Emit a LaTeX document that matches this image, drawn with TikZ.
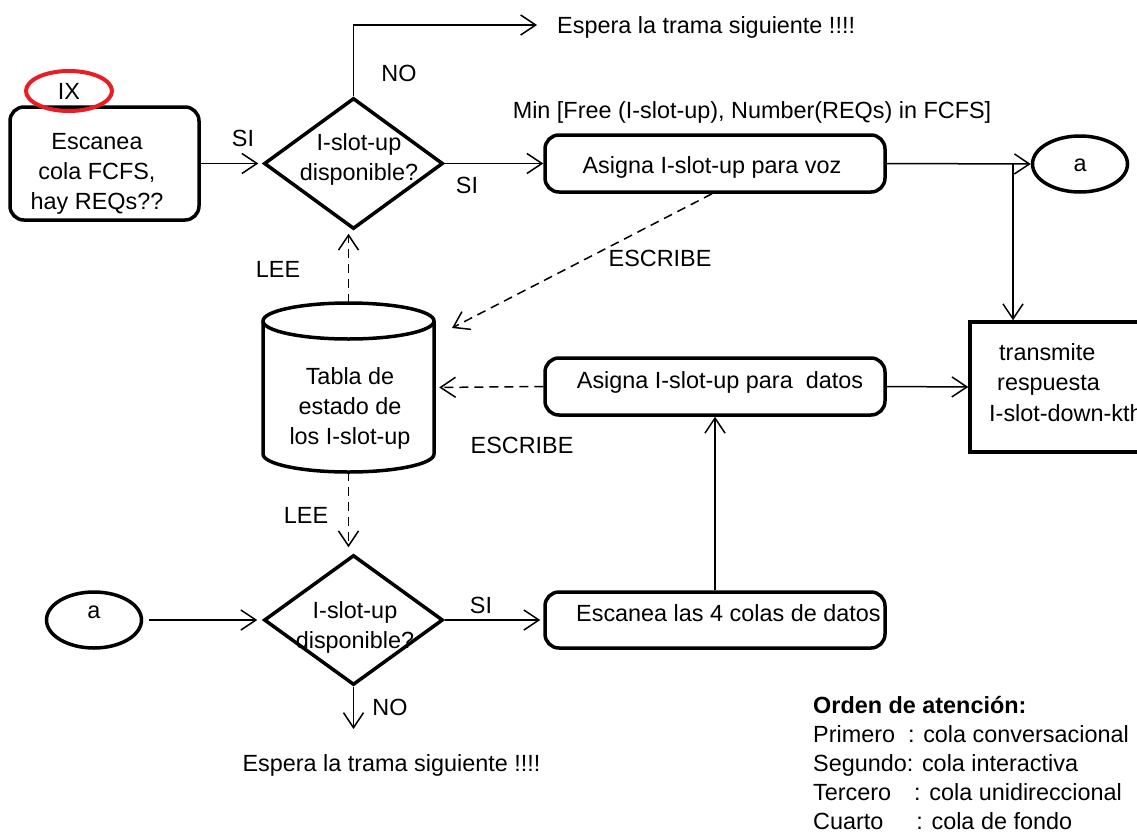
\documentclass[tikz,border=0pt]{standalone}
\usepackage{fontspec}
\setmainfont{Liberation Sans}
\usetikzlibrary{shapes.geometric,arrows.meta}
\definecolor{ixred}{RGB}{232,30,36}
\begin{document}
\begin{tikzpicture}[x=1pt,y=-1pt,
  every node/.style={font=\fontsize{23.4}{30}\selectfont},
  box/.style={draw, line width=3.5pt, rounded corners=14pt, inner sep=0pt},
  sqbox/.style={draw, line width=3.5pt, inner sep=0pt},
  dia/.style={draw, diamond, line width=3.5pt, inner sep=0pt},
  oval/.style={draw, ellipse, line width=3.5pt, inner sep=0pt},
  lbl/.style={anchor=base, inner sep=0pt},
  lblw/.style={anchor=base west, inner sep=0pt},
  txt/.style={align=center, inner sep=0pt},
  arr/.style={line width=1.5pt, -{Straight Barb[length=15pt,width=20pt]}},
  darr/.style={arr, dash pattern=on 9pt off 6pt},
  dbody/.style={line width=3.5pt},
]
\fill[white] (0,0) rectangle (1137,835);
\useasboundingbox (0,0) rectangle (1137,835);
\clip (0,0) rectangle (1137,835);

% ---- top row
\node[box, minimum width=189pt, minimum height=113pt] (esc) at (104.5,163.5) {};
\node[txt] (escT) at (97,174) {Escanea\\cola FCFS,\\hay REQs??};
\node[ellipse, draw=ixred, line width=4pt, inner sep=0pt, minimum width=86pt, minimum height=40pt] (ix) at (69,91) {IX};

\node[dia, minimum width=179pt, minimum height=131pt] (d1) at (353.5,163.5) {};
\node[txt] (d1T) at (359,159) {I-slot-up\\disponible?};

\node[box, minimum width=340pt, minimum height=57pt] (voz) at (715,163.5) {};
\node[lbl] (vozT) at (712,173) {Asigna I-slot-up para voz};

\node[oval, minimum width=95pt, minimum height=56pt, text height=14pt, text depth=0pt] (a1) at (1080,164) {a};

\node[sqbox, minimum width=190pt, minimum height=130pt] (trans) at (1065,387) {};
\node[lblw] (t1) at (999,360) {transmite};
\node[lblw] (t2) at (997,390) {respuesta};
\node[lblw] (t3) at (989,421) {I-slot-down-kth};

\node[lblw] (espera1) at (557,33) {Espera la trama siguiente !!!!};
\coordinate (e1tip) at (537,25);
\node[lbl] (minT) at (752,118) {Min [Free (I-slot-up), Number(REQs) in FCFS]};

% ---- table (cylinder)
\node[inner sep=0pt, minimum width=171pt, minimum height=169pt] (tabla) at (348.5,387.5) {};
\draw[dbody] (263,321) -- (263,454) arc[start angle=180, end angle=0, x radius=85.5, y radius=18]
  -- (434,321) arc[start angle=360, end angle=180, x radius=85.5, y radius=18] -- cycle;
\draw[dbody] (263,321) arc[start angle=180, end angle=0, x radius=85.5, y radius=18];
\node[txt] (tablaT) at (350,408) {Tabla de\\estado de\\los I-slot-up};

\node[box, minimum width=340pt, minimum height=57pt] (datos) at (715,386.5) {};
\node[lbl] (datosT) at (720,388) {Asigna I-slot-up para~ datos};

% ---- bottom row
\node[oval, minimum width=95pt, minimum height=56pt, text height=10pt, text depth=13pt] (a2) at (94,620) {a};
\node[dia, minimum width=179pt, minimum height=130pt] (d2) at (353.5,620) {};
\node[txt] (d2T) at (355,627) {I-slot-up\\disponible?};
\node[box, minimum width=340pt, minimum height=56pt] (esc4) at (715,620) {};
\node[lblw] (esc4T) at (576,621) {Escanea las 4 colas de datos};
\coordinate (no2) at (353.5,729);
\node[lbl] (espera2) at (391.5,771) {Espera la trama siguiente !!!!};
\coordinate (w1) at (452,328);
\coordinate (j) at (1013,163.5);

% ---- labels
\node[lbl] (si1) at (243,146) {SI};
\node[lbl] (no1) at (399,81) {NO};
\node[lbl] (si2) at (467,193) {SI};
\node[lbl] (lee1) at (278,277) {LEE};
\node[lbl] (escr1) at (660,266) {ESCRIBE};
\node[lbl] (escr2) at (522,453) {ESCRIBE};
\node[lbl] (lee2) at (306,523) {LEE};
\node[lbl] (si3) at (481,613) {SI};
\node[lbl] (no3) at (390,715) {NO};

% ---- legend
\node[lblw, font=\fontsize{23.4}{30}\selectfont\bfseries] (ord) at (813,713) {Orden de atención:};
\node[lblw] (o1) at (813,742) {Primero\hspace{13pt}: cola conversacional};
\node[lblw] (o2) at (813,771) {Segundo: cola interactiva};
\node[lblw] (o3) at (813,800) {Tercero\hspace{23pt}: cola unidireccional};
\node[lblw] (o4) at (813,829) {Cuarto\hspace{33pt}: cola de fondo};

% ---- connectors
\draw[arr, shorten >=4pt] (esc.east) -- (d1.west);
\draw[arr] (d1.north) |- (e1tip);
\draw[arr] (d1.east) -- (voz.west);
\draw[arr] (voz.east) -- (a1.west);
\draw[arr] (j) -- (j |- trans.north);
\draw[darr] ([xshift=-3pt]voz.south) -- (w1);
\draw[darr, shorten >=5pt] (datos.west) -- (tabla.east);
\draw[arr] (datos.east) -- (trans.west);
\draw[arr] (esc4.north) -- (datos.south);
\draw[darr, shorten >=3pt] (tabla.north) -- (tabla.north |- d1.south);
\draw[darr, shorten >=6pt] (tabla.south) -- (tabla.south |- d2.north);
\draw[arr, shorten <=6pt, shorten >=5pt] (a2.east) -- (d2.west);
\draw[arr, shorten >=3pt] (d2.east) -- (esc4.west);
\draw[arr] (d2.south) -- (no2);
\end{tikzpicture}
\end{document}
